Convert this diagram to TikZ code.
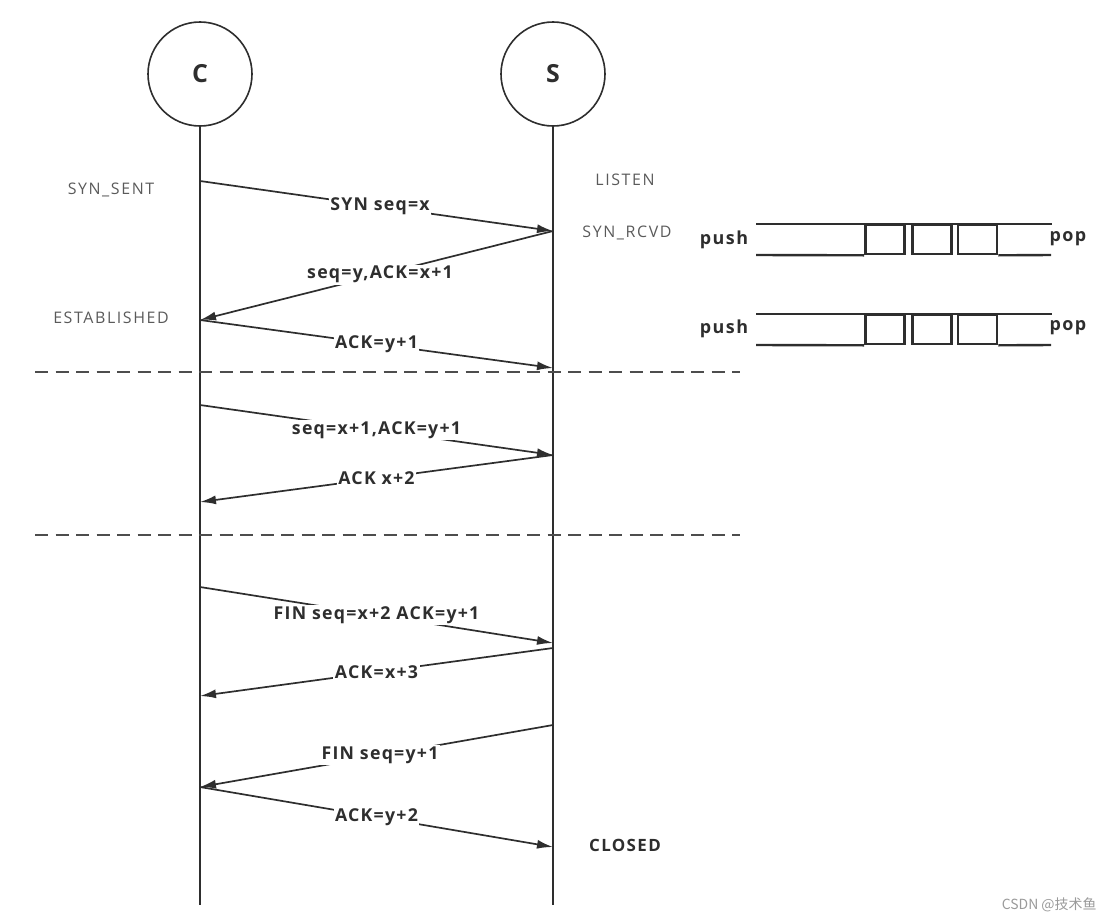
\documentclass[tikz,border=0pt]{standalone}
\usepackage{fontspec}
\setmainfont{Open Sans}
\newfontfamily\lblfont[LetterSpace=7]{Open Sans}
\newfontfamily\qfont[LetterSpace=8]{Open Sans}
\newfontfamily\statefont[LetterSpace=10]{Open Sans}
\newfontfamily\cjk{Noto Sans CJK SC}
\usetikzlibrary{arrows.meta}
\definecolor{ink}{HTML}{2E2E2E}
\definecolor{stategray}{HTML}{5A5A5A}
\definecolor{wm}{HTML}{9A9A9A}
\begin{document}
\begin{tikzpicture}[x=1bp,y=-1bp,
  actor/.style={circle,draw=ink,line width=1.6bp,minimum size=104bp,inner sep=0pt,font=\bfseries\fontsize{25}{30}\selectfont,text=ink},
  life/.style={draw=ink,line width=1.5bp},
  msg/.style={draw=ink,line width=1.7bp,-{Latex[length=16bp,width=9bp]}},
  lbl/.style={fill=white,inner sep=1.5bp,font=\lblfont\bfseries\fontsize{17.8}{20}\selectfont,text=ink},
  state/.style={font=\statefont\fontsize{16}{19}\selectfont,text=stategray},
  sepline/.style={draw=ink!85,line width=1.7bp,dash pattern=on 13bp off 7.5bp},
  qline/.style={draw=ink,line width=2.4bp},
  qbox/.style={draw=ink,line width=2.6bp,minimum width=39bp,minimum height=29bp,inner sep=0pt},
  qtext/.style={font=\qfont\bfseries\fontsize{18}{21}\selectfont,text=ink}
]
\useasboundingbox (0,0) rectangle (1115,921);

% actors
\node[actor] (C) at (200,74) {C};
\node[actor] (S) at (553,74) {S};
\coordinate (Cend) at (200,905);
\coordinate (Send) at (553,905);
\draw[life] (C.south) -- (Cend);
\draw[life] (S.south) -- (Send);

% points on lifelines
\coordinate (c1) at (200,181);
\coordinate (s1) at (553,231);
\coordinate (c2) at (200,320);
\coordinate (s2) at (553,368);
\coordinate (c3) at (200,405);
\coordinate (s3) at (553,455);
\coordinate (c4) at (200,502);
\coordinate (c5) at (200,587);
\coordinate (s5) at (553,643);
\coordinate (s6) at (553,648);
\coordinate (c6) at (200,696);
\coordinate (s7) at (553,725);
\coordinate (c7) at (200,787);
\coordinate (s8) at (553,847);

% state labels
\node[state] (synsent) at (111,190) {SYN\_SENT};
\node[state] (listen) at (625,180) {LISTEN};
\node[state] (synrcvd) at (627,233) {SYN\_RCVD};
\node[state] (estab) at (111,318) {ESTABLISHED};
\node[font=\qfont\bfseries\fontsize{17}{20}\selectfont,text=ink] (closed) at (625,845) {CLOSED};

% messages
\draw[msg] (c1) -- node[lbl,pos=0.51] (m1) {SYN seq=x} (s1);
\draw[msg] (s1) -- node[lbl,pos=0.49] (m2) {seq=y,ACK=x+1} (c2);
\draw[msg] (c2) -- node[lbl,pos=0.5] (m3) {ACK=y+1} (s2);
\draw[msg] (c3) -- node[lbl,pos=0.5] (m4) {seq=x+1,ACK=y+1} (s3);
\draw[msg] (s3) -- node[lbl,pos=0.5] (m5) {ACK x+2} (c4);
\draw[msg] (c5) -- node[lbl,pos=0.5] (m6) {FIN seq=x+2 ACK=y+1} (s5);
\draw[msg] (s6) -- node[lbl,pos=0.5] (m7) {ACK=x+3} (c6);
\draw[msg] (s7) -- node[lbl,pos=0.49] (m8) {FIN seq=y+1} (c7);
\draw[msg] (c7) -- node[lbl,pos=0.5] (m9) {ACK=y+2} (s8);

% separators
\coordinate (d1a) at (35,372);
\coordinate (d1b) at (740,372);
\coordinate (d2a) at (35,535);
\coordinate (d2b) at (740,535);
\draw[sepline] (d1a) -- (d1b);
\draw[sepline] (d2a) -- (d2b);

% queue 1
\node[qtext] (push1) at (724,240) {push};
\node[qtext] (pop1) at (1068,239) {pop};
\node[qbox] (q1a) at (885,239.5) {};
\node[qbox] (q1b) at (932,239.5) {};
\node[qbox] (q1c) at (977.5,239.5) {};
\coordinate (q1t1) at (756,224);
\coordinate (q1t2) at (1052,224);
\coordinate (q1b1) at (756,255);
\coordinate (q1b2) at (1051,255);
\draw[qline] (q1t1) -- (q1t2);
\draw[qline] (q1b1) -- (q1a.south west);
\draw[qline] (q1c.south east) -- (q1b2);

% queue 2
\node[qtext] (push2) at (724,329) {push};
\node[qtext] (pop2) at (1068,328) {pop};
\node[qbox] (q2a) at (885,329.5) {};
\node[qbox] (q2b) at (932,329.5) {};
\node[qbox] (q2c) at (977.5,329.5) {};
\coordinate (q2t1) at (756,314);
\coordinate (q2t2) at (1052,314);
\coordinate (q2b1) at (756,345);
\coordinate (q2b2) at (1051,345);
\draw[qline] (q2t1) -- (q2t2);
\draw[qline] (q2b1) -- (q2a.south west);
\draw[qline] (q2c.south east) -- (q2b2);

% watermark
\node[font=\cjk\fontsize{14}{16}\selectfont,text=wm,anchor=east] (wmark) at (1100,905) {CSDN @技术鱼};
\end{tikzpicture}
\end{document}
